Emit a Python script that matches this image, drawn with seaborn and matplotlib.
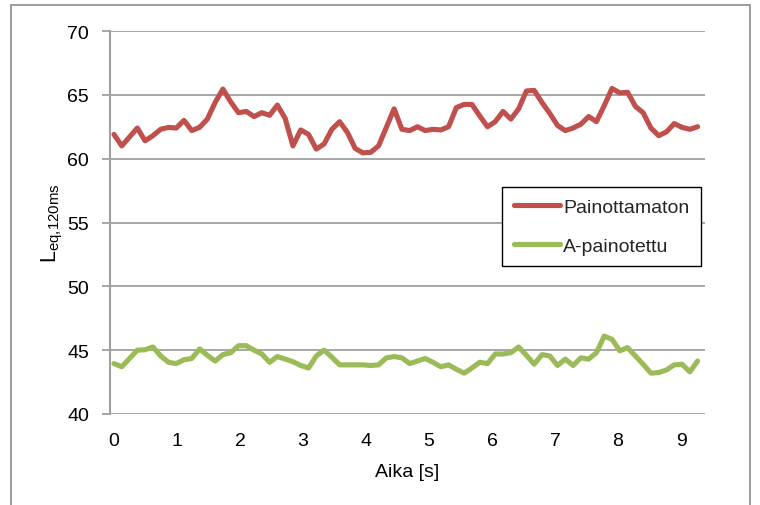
import numpy as np
import pandas as pd
import matplotlib
matplotlib.use("Agg")
import matplotlib.pyplot as plt
import seaborn as sns

# Sound level per 120 ms window, dB
unweighted = [
    61.9, 61.0, 61.7, 62.4, 61.4, 61.8, 62.3, 62.45, 62.4, 63.0,
    62.2, 62.45, 63.1, 64.4, 65.45, 64.45, 63.6, 63.7, 63.3, 63.6,
    63.4, 64.2, 63.15, 61.0, 62.25, 61.9, 60.75, 61.15, 62.3, 62.9,
    62.05, 60.8, 60.45, 60.5, 61.0, 62.45, 63.9, 62.3, 62.2, 62.5,
    62.2, 62.3, 62.25, 62.5, 64.0, 64.25, 64.25, 63.35, 62.5, 62.9,
    63.7, 63.1, 63.9, 65.3, 65.35, 64.4, 63.55, 62.6, 62.2, 62.4,
    62.7, 63.3, 62.9, 64.15, 65.5, 65.15, 65.2, 64.1, 63.6, 62.4,
    61.8, 62.1, 62.75, 62.45, 62.3, 62.5,
]
a_weighted = [
    43.95, 43.7, 44.35, 45.0, 45.03, 45.25, 44.55, 44.05, 43.95, 44.25,
    44.35, 45.1, 44.6, 44.15, 44.65, 44.8, 45.35, 45.35, 45.0, 44.7,
    44.05, 44.5, 44.3, 44.1, 43.8, 43.6, 44.55, 45.0, 44.45, 43.85,
    43.85, 43.85, 43.85, 43.8, 43.85, 44.4, 44.5, 44.4, 43.95, 44.15,
    44.35, 44.05, 43.7, 43.85, 43.5, 43.2, 43.6, 44.05, 43.95, 44.7,
    44.7, 44.8, 45.25, 44.6, 43.9, 44.65, 44.55, 43.8, 44.3, 43.8,
    44.4, 44.3, 44.8, 46.1, 45.85, 44.95, 45.2, 44.55, 43.9, 43.2,
    43.25, 43.45, 43.85, 43.9, 43.3, 44.15,
]
series_names = ["Painottamaton", "A-painotettu"]
series_colors = ["#C0504D", "#9BBB59"]
time_step = 0.1235  # s between samples
x_ticks = list(range(0, 10))
y_ticks = list(range(40, 71, 5))

times = np.arange(len(unweighted)) * time_step
df = pd.DataFrame({
    "Aika": np.concatenate([times, times]),
    "Leq": unweighted + a_weighted,
    "Sarja": [series_names[0]] * len(unweighted) + [series_names[1]] * len(a_weighted),
})

sns.set_theme(style="white")
plt.rcParams["font.family"] = ["Liberation Sans", "DejaVu Sans"]

fig = plt.figure(figsize=(7.6, 5.06), dpi=100)
ax = fig.add_axes([110 / 760, 1 - 415 / 506, 595 / 760, 383 / 506])

grid_col = "#a0a0a0"
sns.lineplot(data=df, x="Aika", y="Leq", hue="Sarja", hue_order=series_names,
             palette=series_colors, linewidth=3.7, ax=ax, zorder=3)

ax.set_xlim(-0.063, 9.38)
ax.set_ylim(40, 70)
ax.set_yticks(y_ticks)
ax.set_xticks(x_ticks)
ax.yaxis.grid(True, color=grid_col, linewidth=1.3)
ax.set_axisbelow(True)
for side in ["top", "right", "bottom"]:
    ax.spines[side].set_visible(False)
ax.spines["left"].set_color(grid_col)
ax.spines["left"].set_linewidth(1.5)
ax.tick_params(axis="y", left=True, length=6, width=1.3, color=grid_col,
               pad=9, labelsize=14, labelcolor="black")
ax.tick_params(axis="x", bottom=False, length=0, pad=13, labelsize=14,
               labelcolor="black")

ax.set_xlabel("Aika [s]", fontsize=14, labelpad=10, color="black")
ax.set_ylabel(r"$\mathregular{L_{eq{,}120ms}}$", fontsize=15.5, labelpad=2, color="black")

leg = ax.legend(loc="upper right", bbox_to_anchor=(0.993, 0.593), fontsize=14,
                frameon=True, fancybox=False, handlelength=2.4, handletextpad=0.15,
                labelspacing=1.1, borderpad=0.58, borderaxespad=0)
leg.get_frame().set_edgecolor("black")
leg.get_frame().set_linewidth(1.0)
leg.get_frame().set_alpha(1)
for line in leg.get_lines():
    line.set_linewidth(3.7)

# Chart area border
fig.patches.append(plt.Rectangle((11 / 760, -0.05), 739 / 760, 1.05 - 6 / 506,
                                 transform=fig.transFigure, fill=False,
                                 edgecolor="#8c8c8c", linewidth=1.2))

fig.savefig("out.png", dpi=100)
